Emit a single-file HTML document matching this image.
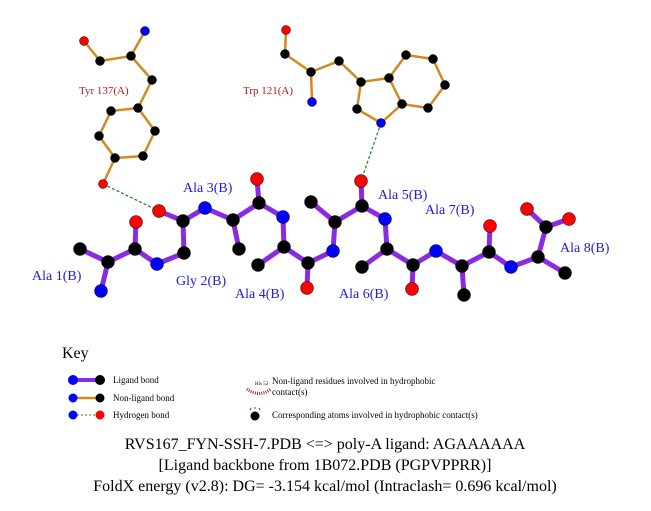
<!DOCTYPE html>
<html><head><style>body{margin:0;background:#fff}svg{display:block}</style></head><body>
<svg width="651" height="511" viewBox="0 0 651 511" font-family="Liberation Serif, serif">
<g stroke="#d08a20" stroke-width="2.5" fill="none">
<path d="M84,41 L100,61 L131,56 L145,31 M131,56 L152,80 L138,108 L111,111 L99,136 L115,158 L143,156 L155,131 L138,108 M115,158 L103,184"/>
<path d="M286,30 L285,54 L311,72 L312,102 M311,72 L339,61 L361,82 L357,109 L381,123 L402,104 L389,78 L361,82 M389,78 L406,55 L433,59 L445,85 L428,108 L402,104"/>
</g>
<g stroke="#2a8a2a" stroke-width="1.3" stroke-dasharray="3,2" fill="none">
<path d="M103,184 L159,211 M381,123 L361,181"/>
</g>
<g stroke="#8a2be2" stroke-width="5" stroke-linecap="round" fill="none">
<path d="M80,249 L108,262 L101,291 M108,262 L135,249 L136,222 M135,249 L157,264 L184,253 L183,221 L159,211 M183,221 L205,208 L233,220 L239,249 M233,220 L259,203 L257,179 M259,203 L283,217 L284,247 L258,265 M284,247 L308,263 L307,288 M308,263 L333,251 L335,222 L311,202 M335,222 L362,206 L361,181 M362,206 L385,219 L387,249 L362,267 M387,249 L413,265 L412,289 M413,265 L436,251 L462,266 L464,295 M462,266 L489,252 L490,226 M489,252 L511,267 L538,257 L565,273 M538,257 L546,227 L527,209 M546,227 L569,219"/>
</g>
<g stroke="#000" stroke-width="0.5">
<g fill="#000">
<circle cx="100" cy="61" r="4.5"/><circle cx="131" cy="56" r="4.5"/><circle cx="152" cy="80" r="4.5"/><circle cx="138" cy="108" r="4.5"/><circle cx="111" cy="111" r="4.5"/><circle cx="99" cy="136" r="4.5"/><circle cx="115" cy="158" r="4.5"/><circle cx="143" cy="156" r="4.5"/><circle cx="155" cy="131" r="4.5"/>
<circle cx="285" cy="54" r="4.5"/><circle cx="311" cy="72" r="4.5"/><circle cx="339" cy="61" r="4.5"/><circle cx="361" cy="82" r="4.5"/><circle cx="357" cy="109" r="4.5"/><circle cx="402" cy="104" r="4.5"/><circle cx="389" cy="78" r="4.5"/><circle cx="406" cy="55" r="4.5"/><circle cx="433" cy="59" r="4.5"/><circle cx="445" cy="85" r="4.5"/><circle cx="428" cy="108" r="4.5"/>
<circle cx="80" cy="249" r="6.5"/><circle cx="108" cy="262" r="6.5"/><circle cx="135" cy="249" r="6.5"/><circle cx="184" cy="253" r="6.5"/><circle cx="183" cy="221" r="6.5"/><circle cx="233" cy="220" r="6.5"/><circle cx="239" cy="249" r="6.5"/><circle cx="259" cy="203" r="6.5"/><circle cx="284" cy="247" r="6.5"/><circle cx="258" cy="265" r="6.5"/><circle cx="308" cy="263" r="6.5"/><circle cx="335" cy="222" r="6.5"/><circle cx="311" cy="202" r="6.5"/><circle cx="362" cy="206" r="6.5"/><circle cx="387" cy="249" r="6.5"/><circle cx="362" cy="267" r="6.5"/><circle cx="413" cy="265" r="6.5"/><circle cx="462" cy="266" r="6.5"/><circle cx="464" cy="295" r="6.5"/><circle cx="489" cy="252" r="6.5"/><circle cx="538" cy="257" r="6.5"/><circle cx="565" cy="273" r="6.5"/><circle cx="546" cy="227" r="6.5"/>
</g>
<g fill="#f00">
<circle cx="84" cy="41" r="4.5"/><circle cx="103" cy="184" r="4.5"/><circle cx="286" cy="30" r="4.5"/>
<circle cx="136" cy="222" r="6.5"/><circle cx="159" cy="211" r="6.5"/><circle cx="257" cy="179" r="6.5"/><circle cx="307" cy="288" r="6.5"/><circle cx="361" cy="181" r="6.5"/><circle cx="412" cy="289" r="6.5"/><circle cx="490" cy="226" r="6.5"/><circle cx="527" cy="209" r="6.5"/><circle cx="569" cy="219" r="6.5"/>
</g>
<g fill="#00f">
<circle cx="145" cy="31" r="4.5"/><circle cx="312" cy="102" r="4.5"/><circle cx="381" cy="123" r="4.5"/>
<circle cx="101" cy="291" r="6.5"/><circle cx="157" cy="264" r="6.5"/><circle cx="205" cy="208" r="6.5"/><circle cx="283" cy="217" r="6.5"/><circle cx="333" cy="251" r="6.5"/><circle cx="385" cy="219" r="6.5"/><circle cx="436" cy="251" r="6.5"/><circle cx="511" cy="267" r="6.5"/>
</g>
</g>
<g fill="#b01818" font-size="11">
<text x="79" y="94">Tyr 137(A)</text><text x="243" y="94">Trp 121(A)</text>
</g>
<g fill="#2020d8" font-size="14">
<text x="32" y="280">Ala 1(B)</text><text x="176" y="285">Gly 2(B)</text><text x="183" y="192">Ala 3(B)</text><text x="235" y="298">Ala 4(B)</text><text x="378" y="199">Ala 5(B)</text><text x="339" y="298">Ala 6(B)</text><text x="425" y="214">Ala 7(B)</text><text x="560" y="252">Ala 8(B)</text>
</g>
<text x="62" y="358" font-size="16">Key</text>
<line x1="73" y1="380" x2="100" y2="380" stroke="#8a2be2" stroke-width="4"/>
<line x1="73" y1="398" x2="100" y2="398" stroke="#d08a20" stroke-width="2.5"/>
<line x1="73" y1="415" x2="100" y2="415" stroke="#2a8a2a" stroke-width="1" stroke-dasharray="2,2"/>
<circle cx="73" cy="380" r="5" fill="#00f"/><circle cx="100" cy="380" r="5" fill="#000"/>
<circle cx="73" cy="398" r="4.5" fill="#00f"/><circle cx="100" cy="398" r="4.5" fill="#000"/>
<circle cx="73" cy="415" r="4.5" fill="#00f"/><circle cx="100" cy="415" r="4.5" fill="#f00"/>
<g font-size="9"><text x="113" y="383">Ligand bond</text><text x="113" y="401">Non-ligand bond</text><text x="113" y="418">Hydrogen bond</text>
<text x="272" y="384">Non-ligand residues involved in hydrophobic</text><text x="272" y="395">contact(s)</text><text x="272" y="418">Corresponding atoms involved in hydrophobic contact(s)</text></g>
<text x="255" y="385" font-size="5">His 53</text>
<path d="M247,389 Q259,398 271,389" fill="none" stroke="#c02020" stroke-width="3" stroke-dasharray="1,1.2"/>
<circle cx="255" cy="416" r="4.5" fill="#000"/>
<path d="M250,410 L251,408 M255,409 L255,407 M260,410 L259,408" stroke="#c02020" stroke-width="1"/>
<g font-size="16" text-anchor="middle"><text x="325" y="449">RVS167_FYN-SSH-7.PDB &lt;=&gt; poly-A ligand: AGAAAAAA</text><text x="325" y="470">[Ligand backbone from 1B072.PDB (PGPVPPRR)]</text><text x="325" y="491">FoldX energy (v2.8): DG= -3.154 kcal/mol (Intraclash= 0.696 kcal/mol)</text></g>
</svg>
</body></html>
